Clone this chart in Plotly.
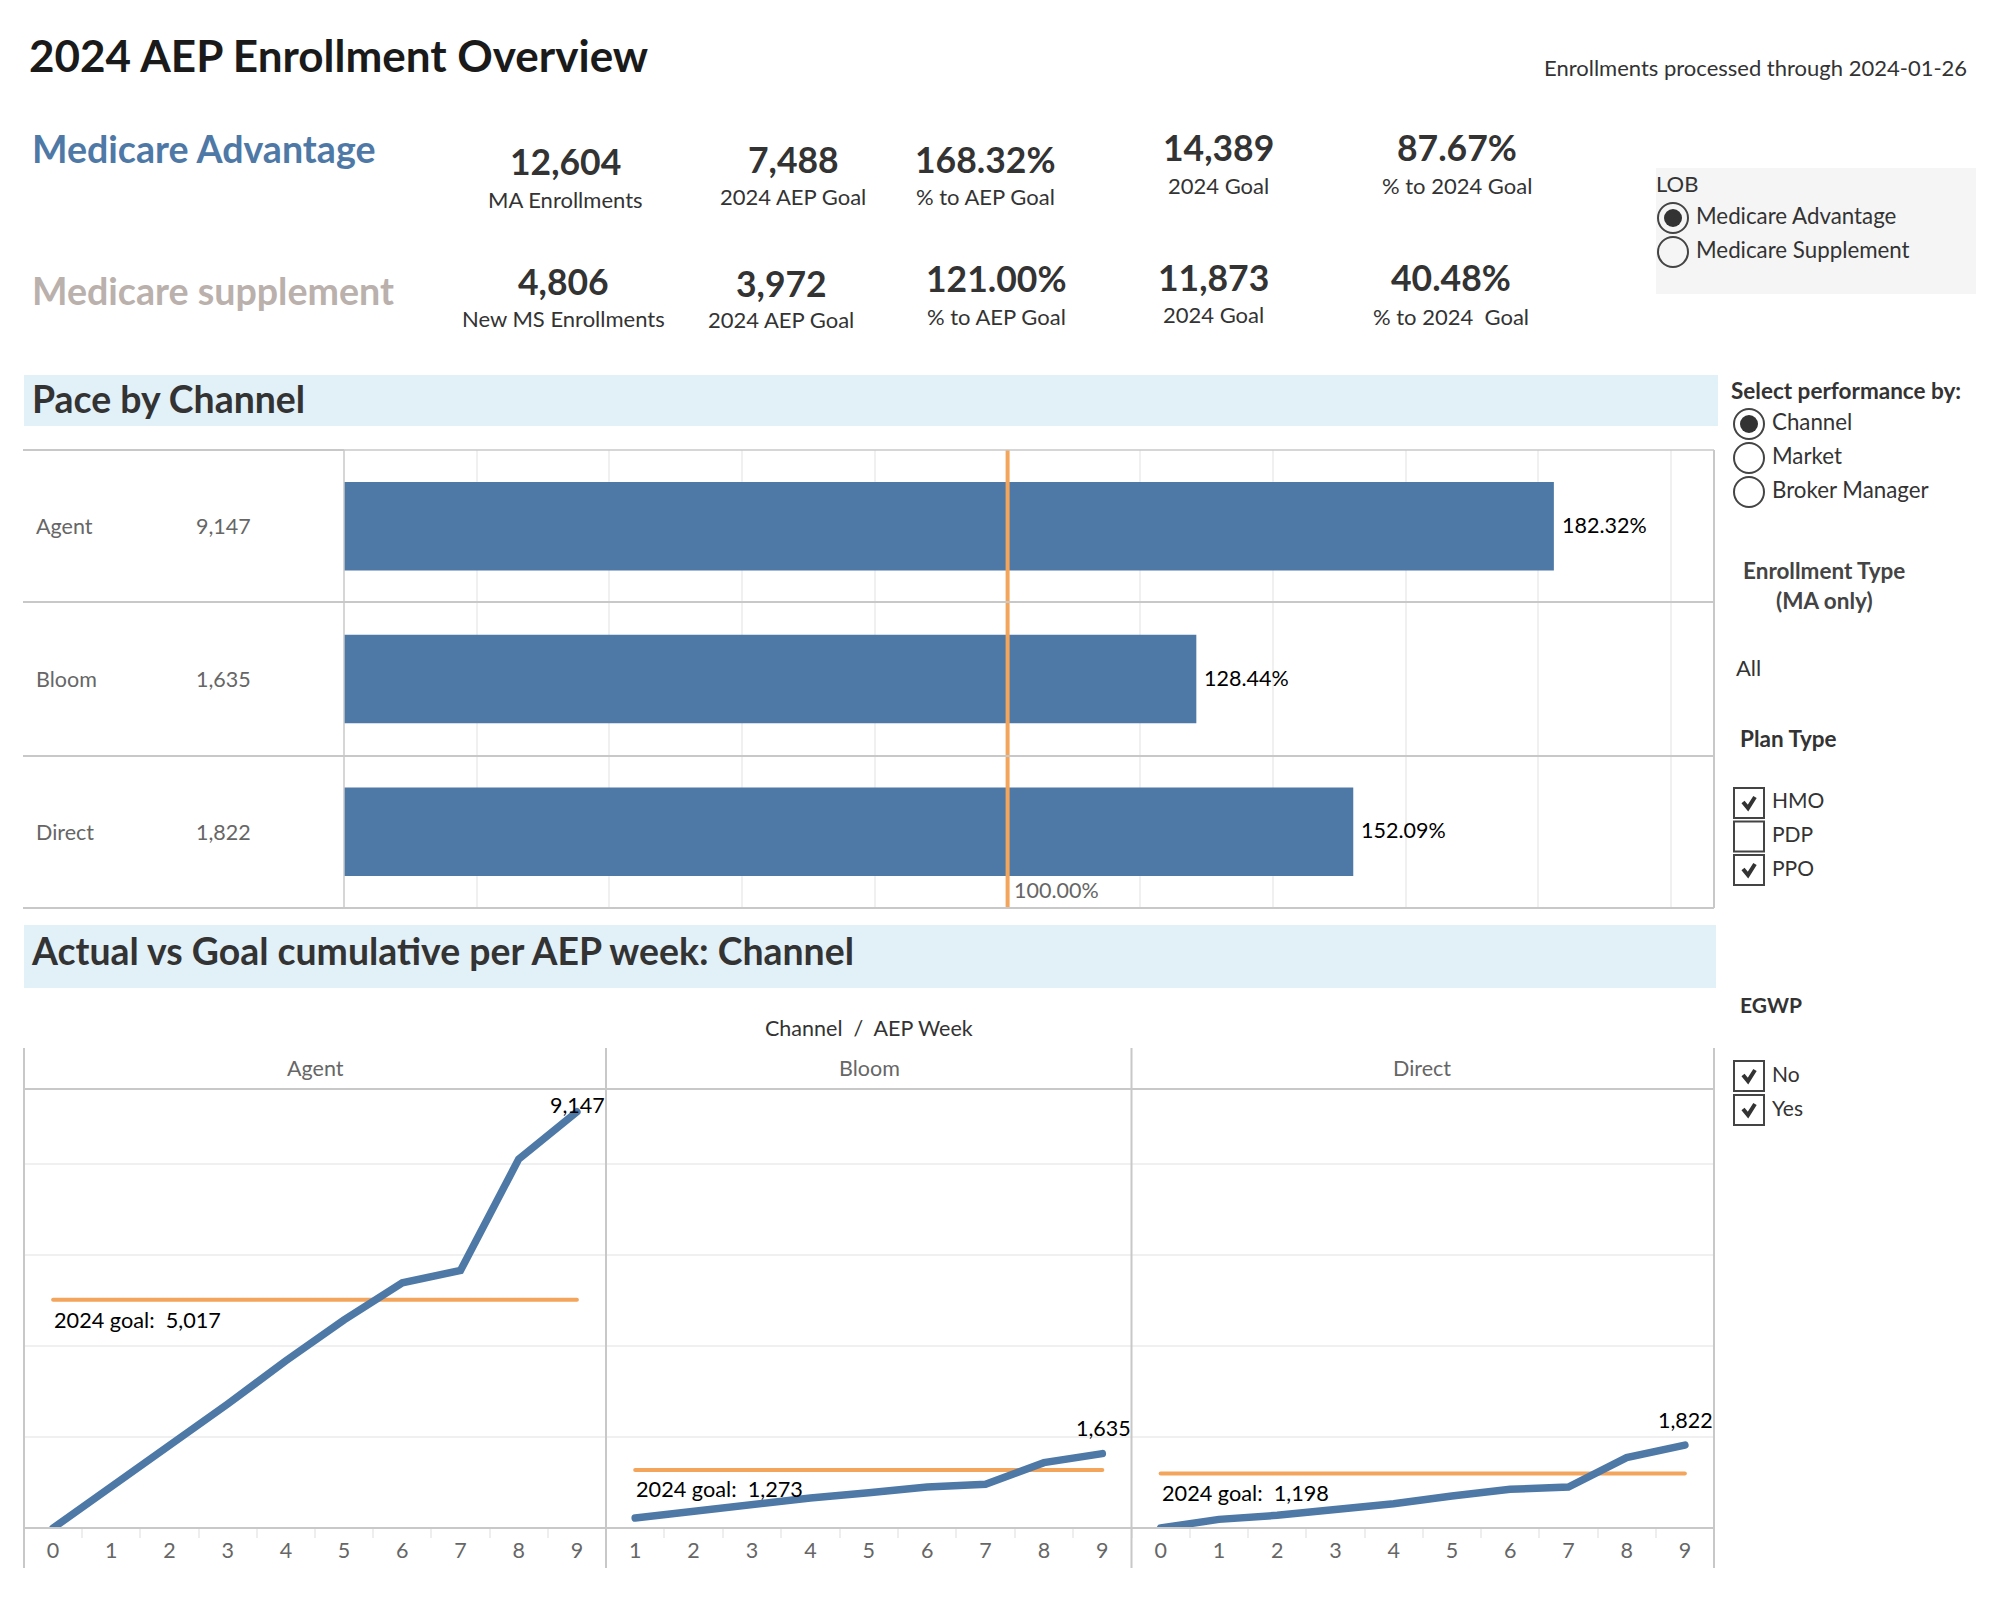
### Imports ###
import plotly.graph_objects as go

### Data ###
channels = ["Agent", "Bloom", "Direct"]
channel_totals = ["9,147", "1,635", "1,822"]
pace_pct = [182.32, 128.44, 152.09]
pace_labels = ["182.32%", "128.44%", "152.09%"]
pace_goal = 100

agent_weeks = [0, 1, 2, 3, 4, 5, 6, 7, 8, 9]
agent_actual = [0, 900, 1800, 2725, 3675, 4575, 5390, 5660, 8107, 9147]
agent_goal = 5017
bloom_weeks = [1, 2, 3, 4, 5, 6, 7, 8, 9]
bloom_actual = [220, 374, 535, 660, 777, 900, 960, 1437, 1635]
bloom_goal = 1273
direct_weeks = [0, 1, 2, 3, 4, 5, 6, 7, 8, 9]
direct_actual = [0, 190, 278, 403, 535, 704, 850, 900, 1547, 1822]
direct_goal = 1198

ma_values = ["12,604", "7,488", "168.32%", "14,389", "87.67%"]
ma_captions = ["MA Enrollments", "2024 AEP Goal", "% to AEP Goal", "2024 Goal", "% to 2024 Goal"]
ms_values = ["4,806", "3,972", "121.00%", "11,873", "40.48%"]
ms_captions = ["New MS Enrollments", "2024 AEP Goal", "% to AEP Goal", "2024 Goal", "% to 2024  Goal"]

lob_options = ["Medicare Advantage", "Medicare Supplement"]
perf_options = ["Channel", "Market", "Broker Manager"]
plan_options = ["HMO", "PDP", "PPO"]
plan_checked = [True, False, True]
egwp_options = ["No", "Yes"]
egwp_checked = [True, True]

### Styles ###
W, H = 2000, 1600
FONT = "Lato"
BLUE = "#4E79A7"
ORANGE = "#F4A55C"
RULE = "#C8C8C8"
GRID = "#F0F0F0"
DARK = "#333333"
GREY = "#666666"
BANNER = "#E2F0F8"
BODY = 22
HEAD = 37.4


def px_x(x):
    return x / W


def px_y(y):
    return 1 - y / H


fig = go.Figure()
annotations = []
shapes = []


def label(text, x, y, size=BODY, color=DARK, bold=False, anchor="left"):
    # Lato sits a little lower and further right than the reference face
    nudge = {"left": -2, "center": 0, "right": 2}[anchor]
    annotations.append(dict(
        text=text, x=px_x(x + nudge), y=px_y(y - 0.5), xref="paper", yref="paper",
        xanchor=anchor, yanchor="middle", showarrow=False,
        font=dict(family=FONT, size=size, color=color, weight="bold" if bold else "normal"),
    ))


def rule(x0, y0, x1, y1, color=RULE, width=2):
    shapes.append(dict(
        type="line", xref="paper", yref="paper",
        x0=px_x(x0), x1=px_x(x1), y0=px_y(y0), y1=px_y(y1),
        line=dict(color=color, width=width),
    ))


def box(x0, y0, x1, y1, fill, line_color=None, line_width=0, kind="rect"):
    shapes.append(dict(
        type=kind, xref="paper", yref="paper", layer="below" if line_color is None else "above",
        x0=px_x(x0), x1=px_x(x1), y0=px_y(y0), y1=px_y(y1),
        fillcolor=fill, line=dict(color=line_color or fill, width=line_width),
    ))


def radio(cx, cy, selected):
    box(cx - 15, cy - 15, cx + 15, cy + 15, "rgba(0,0,0,0)", "#444444", 2, "circle")
    if selected:
        box(cx - 9, cy - 9, cx + 9, cy + 9, DARK, DARK, 0, "circle")


def checkbox(cx, cy, checked):
    box(cx - 15, cy - 15, cx + 15, cy + 15, "rgba(0,0,0,0)", "#444444", 2)
    if checked:
        points = [(cx - 6, cy - 1), (cx - 1, cy + 5), (cx + 6, cy - 6)]
        path = "M " + " L ".join(f"{px_x(a)} {px_y(b)}" for a, b in points)
        shapes.append(dict(type="path", xref="paper", yref="paper", path=path,
                           line=dict(color=DARK, width=4)))


### Header and KPIs ###
label("2024 AEP Enrollment Overview", 29, 56, size=44, color="#1A1A1A", bold=True)
label("Enrollments processed through 2024-01-26", 1967, 68, anchor="right")
label("Medicare Advantage", 32, 149, size=37.6, color=BLUE, bold=True)
label("Medicare supplement", 32, 291, size=37.6, color="#BAB0AC", bold=True)

ma_centers = [565, 793, 985, 1218, 1457]
ma_value_y = [162, 160, 160, 148, 148]
ma_caption_y = [200, 197, 197, 186, 186]
ms_centers = [563, 781, 996, 1213, 1451]
ms_value_y = [282, 284, 279, 278, 278]
ms_caption_y = [319, 320, 317, 315, 317]
for i in range(5):
    label(ma_values[i], ma_centers[i], ma_value_y[i], size=35.5, bold=True, anchor="center")
    label(ma_captions[i], ma_centers[i], ma_caption_y[i], anchor="center")
    label(ms_values[i], ms_centers[i], ms_value_y[i], size=35.5, bold=True, anchor="center")
    label(ms_captions[i], ms_centers[i], ms_caption_y[i], anchor="center")

### Filter panel ###
box(1656, 168, 1976, 294, "#F5F5F5")
label("LOB", 1656, 184)
for i, name in enumerate(lob_options):
    radio(1673, 218 + i * 34, i == 0)
    label(name, 1696, 216 + i * 34, size=22.3)

label("Select performance by:", 1731, 391, size=22.5, bold=True)
for i, name in enumerate(perf_options):
    radio(1749, 424 + i * 34, i == 0)
    label(name, 1772, 422 + i * 34, size=22.3)

label("Enrollment Type", 1824, 571, size=22.5, color="#444444", bold=True, anchor="center")
label("(MA only)", 1824, 601, size=22.5, color="#444444", bold=True, anchor="center")
label("All", 1736, 668)
label("Plan Type", 1740, 739, size=22.5, bold=True)
for i, name in enumerate(plan_options):
    checkbox(1749, 803 + i * 33.5, plan_checked[i])
    label(name, 1772, 800 + i * 34, size=21)
label("EGWP", 1740, 1005, size=21, bold=True)
for i, name in enumerate(egwp_options):
    checkbox(1749, 1076 + i * 34, egwp_checked[i])
    label(name, 1772, 1074 + i * 34, size=21)

### Pace by channel ###
box(24, 375, 1718, 426, BANNER)
label("Pace by Channel", 32, 399, size=HEAD, bold=True)

bar_left, bar_right, bar_top, bar_bottom = 344, 1714, 450, 908
fig.add_trace(go.Bar(
    x=pace_pct, y=channels, orientation="h", xaxis="x", yaxis="y",
    marker=dict(color=BLUE, line=dict(width=0)),
))
shapes.append(dict(
    type="line", xref="x", yref="paper", x0=pace_goal, x1=pace_goal,
    y0=px_y(bar_top), y1=px_y(bar_bottom), line=dict(color=ORANGE, width=4),
))
label("100.00%", 1014, 891, size=21.5, color=GREY)
for i, name in enumerate(channels):
    annotations.append(dict(text=name, xref="paper", yref="y", x=px_x(34), y=name, xanchor="left",
                            showarrow=False, font=dict(family=FONT, size=21.5, color=GREY)))
    annotations.append(dict(text=channel_totals[i], xref="paper", yref="y", x=px_x(194), y=name,
                            xanchor="left", showarrow=False,
                            font=dict(family=FONT, size=21.5, color=GREY)))
    annotations.append(dict(text=pace_labels[i], xref="x", yref="y", x=pace_pct[i], y=name,
                            xanchor="left", xshift=6, yshift=1.5, showarrow=False,
                            font=dict(family=FONT, size=21.5, color="#000000")))
rule(23, bar_top, bar_left, bar_top)
rule(bar_left, bar_top, bar_right, bar_top, width=1.5)
rule(23, 602, bar_right, 602)
rule(23, 756, bar_right, 756)
rule(23, bar_bottom, bar_right, bar_bottom)
rule(bar_left, bar_top, bar_left, bar_bottom, width=1.5)
rule(bar_right, bar_top, bar_right, bar_bottom)

### Cumulative by week ###
box(24, 925, 1716, 988, BANNER)
label("Actual vs Goal cumulative per AEP week: Channel", 31, 951, size=HEAD, bold=True)
label("Channel  /  AEP Week", 869, 1028, size=21.5, anchor="center")

line_top, line_bottom = 1089, 1527
panel_edges = [24, 606, 1131.5, 1714]
panels = [
    (agent_weeks, agent_actual, agent_goal, "x2", "y2"),
    (bloom_weeks, bloom_actual, bloom_goal, "x3", "y3"),
    (direct_weeks, direct_actual, direct_goal, "x4", "y4"),
]
for weeks, actual, goal, xa, ya in panels:
    fig.add_trace(go.Scatter(x=weeks, y=[goal] * len(weeks), mode="lines", xaxis=xa, yaxis=ya,
                             line=dict(color=ORANGE, width=4)))
    fig.add_trace(go.Scatter(x=weeks, y=actual, mode="lines", xaxis=xa, yaxis=ya,
                             line=dict(color=BLUE, width=7.5)))

header_x = [315, 869, 1422]
for i, name in enumerate(channels):
    label(name, header_x[i], 1068, size=21.5, color=GREY, anchor="center")
label("9,147", 577, 1105, size=21.5, color="#000000", anchor="center")
label("1,635", 1103, 1428, size=21.5, color="#000000", anchor="center")
label("1,822", 1685, 1420, size=21.5, color="#000000", anchor="center")
label(f"2024 goal:  {agent_goal:,}", 54, 1320, size=21.7, color="#000000")
label(f"2024 goal:  {bloom_goal:,}", 636, 1489, size=21.7, color="#000000")
label(f"2024 goal:  {direct_goal:,}", 1162, 1493, size=21.7, color="#000000")

for edge in panel_edges:
    rule(edge, 1048, edge, 1568)
rule(24, line_top, 1714, line_top)


def week_axis(weeks, left, right):
    return dict(
        domain=[px_x(left), px_x(right)],
        range=[weeks[0] - 0.5, weeks[-1] + 0.5],
        tickmode="array", tickvals=weeks, ticktext=[str(w) for w in weeks],
        ticks="outside", ticklen=3, tickcolor="rgba(0,0,0,0)",
        tickfont=dict(family=FONT, size=21.5, color=GREY),
        showgrid=False, zeroline=False,
        showline=True, linecolor=RULE, linewidth=2,
        minor=dict(ticks="outside", tick0=0.5, dtick=1, ticklen=9, tickcolor="#EEEEEE", tickwidth=2, showgrid=False),
    )


def value_axis():
    return dict(
        domain=[px_y(line_bottom), px_y(line_top)],
        range=[22, 9648], tick0=0, dtick=2000, showticklabels=False, ticks="",
        showgrid=True, gridcolor=GRID, gridwidth=2, zeroline=False, showline=False,
    )


fig.update_layout(
    width=W, height=H, margin=dict(l=0, r=0, t=0, b=0, pad=0),
    paper_bgcolor="white", plot_bgcolor="white", showlegend=False, bargap=0.42,
    font=dict(family=FONT),
    annotations=annotations, shapes=shapes,
    xaxis=dict(domain=[px_x(bar_left), px_x(bar_right)], range=[0, 206.45], dtick=20,
               showticklabels=False, ticks="", showgrid=True, gridcolor=GRID, gridwidth=2, zeroline=False),
    yaxis=dict(domain=[px_y(bar_bottom), px_y(bar_top)], autorange=False, range=[2.5, -0.5],
               type="category", showticklabels=False, ticks="", showgrid=False, zeroline=False),
    xaxis2=week_axis(agent_weeks, panel_edges[0], panel_edges[1]) | dict(anchor="y2"),
    yaxis2=value_axis() | dict(anchor="x2"),
    xaxis3=week_axis(bloom_weeks, panel_edges[1], panel_edges[2]) | dict(anchor="y3"),
    yaxis3=value_axis() | dict(anchor="x3"),
    xaxis4=week_axis(direct_weeks, panel_edges[2], panel_edges[3]) | dict(anchor="y4"),
    yaxis4=value_axis() | dict(anchor="x4"),
)

# drop the default page margin and round the line ends like the original
page_js = """
document.body.style.margin = '0';
document.querySelectorAll('.scatterlayer .js-line').forEach(function (p) {
    p.style.strokeLinecap = 'round';
});
"""
fig.write_html("out.html", config=dict(displayModeBar=False), post_script=page_js)
